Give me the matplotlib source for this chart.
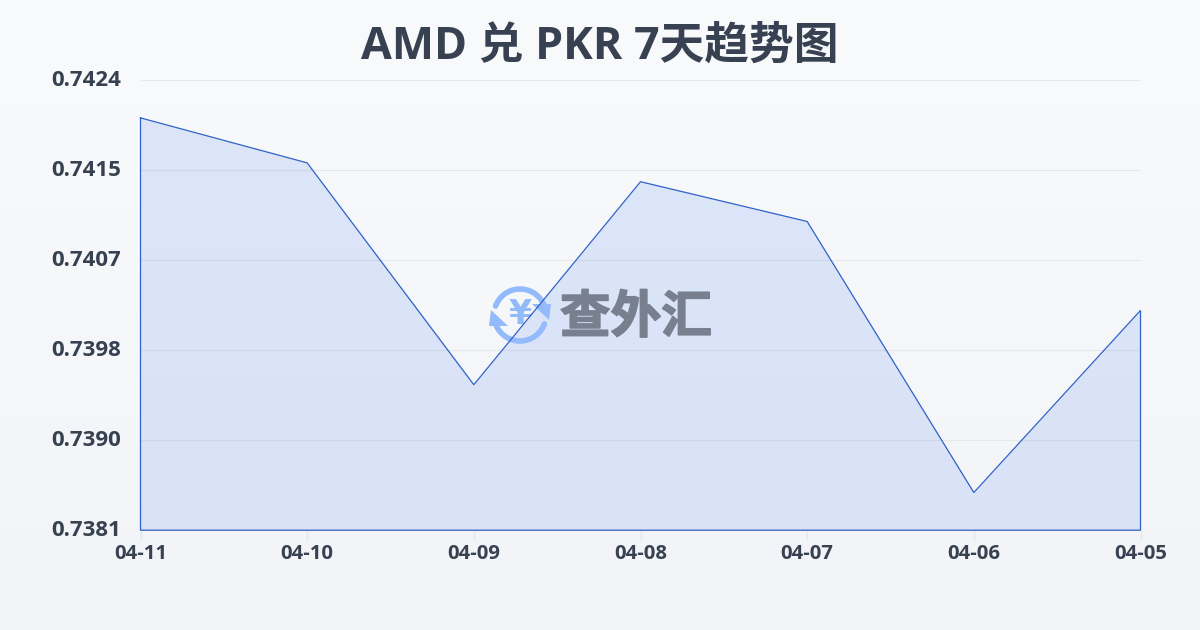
import numpy as np
import matplotlib
matplotlib.use('Agg')
import matplotlib.pyplot as plt
import matplotlib.patheffects as pe
from matplotlib.patches import Arc, Polygon
from matplotlib.transforms import ScaledTranslation

plt.rcParams['font.family'] = ['Open Sans', 'Noto Sans CJK SC', 'DejaVu Sans']
plt.rcParams['font.weight'] = 'bold'

dates = ['04-11', '04-10', '04-09', '04-08', '04-07', '04-06', '04-05']
rates = [0.74204, 0.74161, 0.73949, 0.74143, 0.74105, 0.73846, 0.74020]
y_labels = ['0.7381', '0.7390', '0.7398', '0.7407', '0.7415', '0.7424']
y_min = 0.7381
y_max = 0.7424

W, H = 1200, 630
TEXT = '#374151'
GRID = '#e5e7eb'
LINE = '#2f62c8'
LOGO_BLUE = '#93bbfb'
LOGO_GREY = '#78808f'

fig = plt.figure(figsize=(W / 100, H / 100), dpi=100)

# background gradient, also gives a pixel-coordinate transform for the watermark
bg = fig.add_axes([0, 0, 1, 1], zorder=0)
bg.set_xlim(0, W)
bg.set_ylim(H, 0)
bg.axis('off')
top = np.array([0xf9, 0xfa, 0xfc]) / 255
bottom = np.array([0xf2, 0xf4, 0xf7]) / 255
t = np.linspace(0, 1, 256)[:, None, None]
bg.imshow(top + (bottom - top) * t, extent=(0, W, H, 0), aspect='auto', zorder=0)

ax = fig.add_axes([140.5 / W, 1 - 530.2 / H, 1000 / W, 450 / H], zorder=1)
ax.patch.set_alpha(0)

x = np.arange(len(dates))
ax.fill_between(x, rates, y_min, color='#2563eb', alpha=0.125, lw=0, zorder=3)
ax.plot(list(x) + [x[-1], x[0], x[0]],
        rates + [y_min, y_min, rates[0]],
        color=LINE, lw=0.9, zorder=5, solid_joinstyle='miter', clip_on=False)

# watermark sits between the fill and the line
px = bg.transData
cx, cy, r = 520, 315, 26
for a, b in [(200, 338), (20, 158)]:
    ax.add_patch(Arc((cx, cy), 2 * r, 2 * r, theta1=a, theta2=b, lw=4,
                     color=LOGO_BLUE, capstyle='round', zorder=4, transform=px))
ax.add_patch(Polygon([[489, 326], [508, 326], [491, 310]], closed=True, color=LOGO_BLUE,
                     zorder=4, lw=0, transform=px))
ax.add_patch(Polygon([[532, 304], [551, 304], [549, 320]], closed=True, color=LOGO_BLUE,
                     zorder=4, lw=0, transform=px))
ax.text(cx, cy - 1, '¥', fontsize=24, fontweight='bold', color=LOGO_BLUE, ha='center',
        va='center', family=['DejaVu Sans'], zorder=4, transform=px)
ax.text(636, 318, '查外汇', fontsize=36.5, fontweight='bold', color=LOGO_GREY, ha='center',
        va='center', zorder=4, transform=px, family=['Noto Sans CJK SC'],
        path_effects=[pe.withStroke(linewidth=1.2, foreground=LOGO_GREY)])

ax.set_xlim(x[0], x[-1])
ax.set_ylim(y_min, y_max)
ax.set_xticks(x)
ax.set_xticklabels(dates, fontsize=14.6, fontweight='bold', color=TEXT)
ax.set_yticks(np.linspace(y_min, y_max, len(y_labels)))
ax.set_yticklabels(y_labels, fontsize=16, fontweight='bold', color=TEXT)
ax.tick_params(axis='x', length=7, width=1, color=GRID, pad=3)
ax.tick_params(axis='y', length=0, pad=14)
up = ScaledTranslation(0, 2 / 100, fig.dpi_scale_trans)
for lab in ax.get_yticklabels():
    lab.set_transform(lab.get_transform() + up)
ax.grid(axis='y', color=GRID, lw=0.8, zorder=1)
ax.set_axisbelow(True)
for s in ax.spines.values():
    s.set_visible(False)

fig.text(600 / W, 1 - 47 / H, 'AMD 兑 PKR 7天趋势图', fontsize=32.2, fontweight='bold',
         color='#374151', ha='center', va='center')

plt.savefig('out.png', dpi=100)
